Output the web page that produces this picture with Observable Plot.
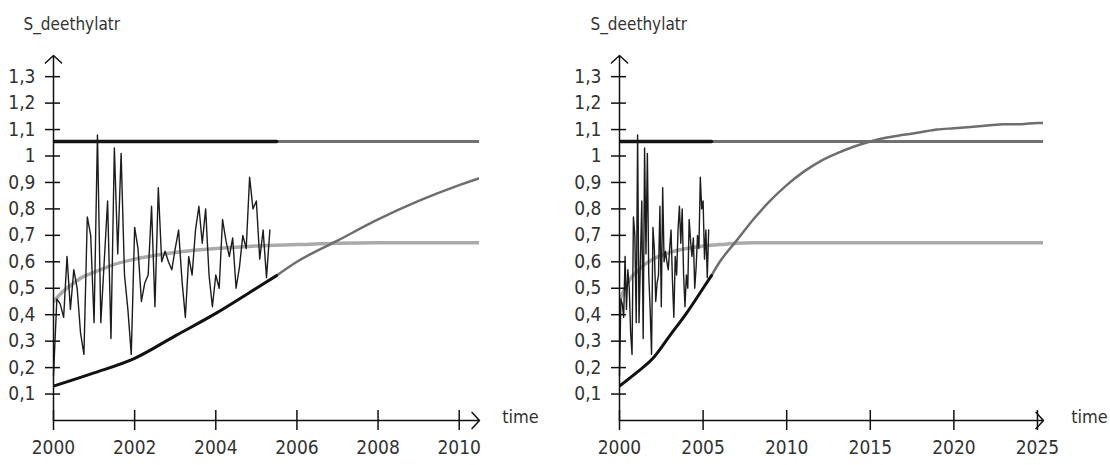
<!DOCTYPE html>
<html><head><meta charset="utf-8">
<script src="https://cdn.jsdelivr.net/npm/d3@7"></script>
<script src="https://cdn.jsdelivr.net/npm/@observablehq/plot@0.6"></script>
<style>
body{margin:0;background:#fff;}
#wrap{display:flex;width:1110px;height:465px;overflow:hidden;}
</style></head><body><div id="wrap"></div>
<script>
// ---- data ----
const titleText = "S_deethylatr";
const xLabel = "time";
const obsStartYear = 2000;
const obsValues = [0.17,0.46,0.44,0.39,0.62,0.42,0.57,0.50,0.33,0.25,0.77,0.70,
  0.37,1.08,0.37,0.60,0.83,0.31,1.03,0.63,1.01,0.55,0.42,0.25,
  0.73,0.65,0.45,0.52,0.55,0.81,0.43,0.88,0.60,0.64,0.60,0.57,
  0.65,0.72,0.53,0.39,0.62,0.55,0.72,0.81,0.67,0.80,0.55,0.43,
  0.55,0.50,0.76,0.68,0.62,0.69,0.50,0.58,0.70,0.65,0.92,0.80,
  0.83,0.61,0.72,0.54,0.72];
const modelYears = [2000,2001,2002,2003,2004,2005,2005.5,2006,2007,2008,2009,2010,2011,2012,2013,2014,2015,2016,2017,2018,2019,2020,2021,2022,2023,2024,2025,2026];
const modelValues = [0.13,0.18,0.235,0.32,0.405,0.50,0.548,0.60,0.68,0.76,0.83,0.89,0.94,0.98,1.01,1.035,1.055,1.07,1.08,1.09,1.10,1.105,1.11,1.115,1.12,1.12,1.125,1.125];
const fitYears = [2000,2000.25,2000.5,2000.75,2001,2001.5,2002,2003,2004,2005,2006,2007,2008,2010,2026];
const fitValues = [0.45,0.49,0.52,0.545,0.56,0.59,0.61,0.635,0.65,0.66,0.665,0.67,0.672,0.672,0.672];
const refLevel = 1.055;
const dataEndYear = 2005.5;
const yTicks = [0.1,0.2,0.3,0.4,0.5,0.6,0.7,0.8,0.9,1.0,1.1,1.2,1.3];
const leftXTicks = [2000,2002,2004,2006,2008,2010];
const rightXTicks = [2000,2005,2010,2015,2020,2025];

// ---- derived ----
const obs = obsValues.map((v, i) => ({t: obsStartYear + i / 12, v}));
const model = modelYears.map((t, i) => ({t, v: modelValues[i]}));
const modelDark = model.filter(d => d.t <= dataEndYear);
const modelLight = model.filter(d => d.t >= dataEndYear);
const fit = fitYears.map((t, i) => ({t, v: fitValues[i]}));
const tMin = modelYears[0], tMax = modelYears[modelYears.length - 1];
const refDark = [{t: tMin, v: refLevel}, {t: dataEndYear, v: refLevel}];
const refLight = [{t: dataEndYear, v: refLevel}, {t: tMax, v: refLevel}];

const FONT = "'Liberation Sans Narrow','Arial Narrow','DejaVu Sans Condensed','Liberation Sans',sans-serif";
const fmt = d => Math.abs(d - 1) < 1e-9 ? "1" : d.toFixed(1).replace(".", ",");

function panel(xTicks, xMax, mLeft, mRight, timeDx, titleDx) {
  const yMax = 1.38;
  const x0 = xTicks[0];
  return Plot.plot({
    width: 555, height: 465,
    marginLeft: mLeft, marginRight: mRight, marginTop: 55, marginBottom: 45,
    x: {domain: [x0, xMax], axis: null},
    y: {domain: [0, yMax], axis: null},
    style: {fontFamily: FONT, fontSize: "19px", color: "#333", background: "#fff", overflow: "visible"},
    marks: [
      Plot.line(fit, {x: "t", y: "v", stroke: "#aaaaaa", strokeWidth: 3.5, curve: "monotone-x", clip: true}),
      Plot.line(refLight, {x: "t", y: "v", stroke: "#707070", strokeWidth: 3, clip: true}),
      Plot.line(refDark, {x: "t", y: "v", stroke: "#151515", strokeWidth: 3.5, clip: true}),
      Plot.line(modelLight, {x: "t", y: "v", stroke: "#6e6e6e", strokeWidth: 2.5, curve: "monotone-x", clip: true}),
      Plot.line(modelDark, {x: "t", y: "v", stroke: "#111", strokeWidth: 3, curve: "monotone-x", clip: true}),
      Plot.line(obs, {x: "t", y: "v", stroke: "#1c1c1c", strokeWidth: 1.4}),
      // axes
      Plot.arrow([0], {x1: x0, y1: 0, x2: xMax, y2: 0, stroke: "#111", strokeWidth: 1.5, headLength: 11, headAngle: 95}),
      Plot.arrow([0], {x1: x0, y1: 0, x2: x0, y2: yMax, stroke: "#111", strokeWidth: 1.5, headLength: 11, headAngle: 95}),
      Plot.ruleY(yTicks, {y: d => d, x1: x0, x2: x0, insetLeft: -8, insetRight: -7, stroke: "#111", strokeWidth: 1.5}),
      Plot.ruleX(xTicks, {x: d => d, y1: 0, y2: 0, insetTop: -10, insetBottom: -10, stroke: "#111", strokeWidth: 1.5}),
      Plot.axisY({ticks: yTicks, tickSize: 0, tickPadding: 18, tickFormat: fmt, fill: "#333", label: null}),
      Plot.axisX({ticks: xTicks, tickSize: 0, tickPadding: 20, tickFormat: d => String(d), fill: "#333", label: null}),
      Plot.text([xLabel], {x: xMax, y: 0, text: d => d, dx: timeDx, dy: -3, fill: "#333", fontSize: 18}),
      Plot.text([titleText], {frameAnchor: "top-left", text: d => d, dx: titleDx, dy: -38, textAnchor: "start", fill: "#333", fontSize: 17})
    ]
  });
}

const wrap = document.getElementById("wrap");
wrap.appendChild(panel(leftXTicks, 2010.5, 53, 76, 41, -30));
wrap.appendChild(panel(rightXTicks, 2025.36, 64, 67, 46, -29));
</script>
</body></html>
